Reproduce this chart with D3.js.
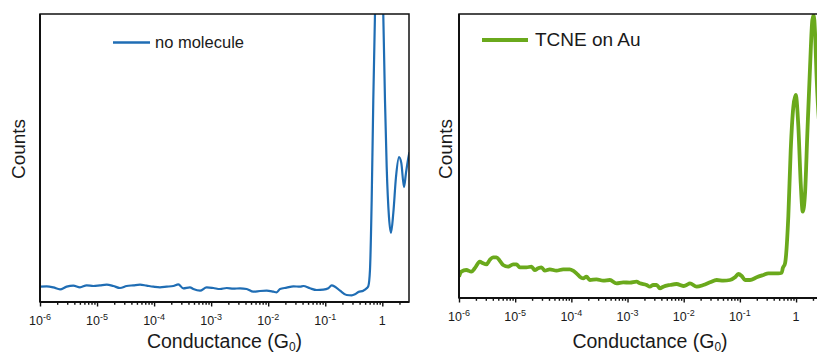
<!DOCTYPE html>
<html>
<head>
<meta charset="utf-8">
<script src="https://cdn.jsdelivr.net/npm/d3@7"></script>
<style>
  html, body { margin: 0; padding: 0; background: #fff; }
  svg { display: block; font-family: "Liberation Sans", Arial, Helvetica, sans-serif; }
</style>
</head>
<body>
<svg id="chart" width="817" height="353"></svg>
<script>
// Conductance histograms: log10(G/G0) positions and counts (arbitrary units)
const noMoleculeLogG = [-6.000,-5.883,-5.766,-5.649,-5.533,-5.416,-5.299,-5.182,-5.065,-4.948,-4.831,-4.715,-4.598,-4.481,-4.364,-4.247,-4.130,-4.013,-3.897,-3.780,-3.663,-3.575,-3.488,-3.371,-3.312,-3.195,-3.079,-2.962,-2.845,-2.728,-2.611,-2.494,-2.377,-2.261,-2.144,-2.027,-1.910,-1.852,-1.793,-1.676,-1.559,-1.443,-1.384,-1.267,-1.150,-1.034,-0.946,-0.888,-0.829,-0.741,-0.625,-0.537,-0.479,-0.420,-0.333,-0.274,-0.245,-0.216,-0.186,-0.158,-0.128,-0.093,-0.058,-0.023,0.017,0.047,0.077,0.117,0.152,0.193,0.240,0.293,0.333,0.380,0.415,0.456,0.476];
const noMoleculeCounts = [5.32,5.44,5.09,4.40,5.32,5.67,5.09,5.79,5.56,5.79,6.02,5.56,4.86,5.56,5.79,6.02,5.67,5.32,5.09,5.32,5.56,6.13,4.75,5.09,4.51,3.93,5.09,4.86,4.51,4.86,4.63,4.75,4.51,3.59,3.82,3.93,3.59,3.36,4.51,4.98,5.44,5.32,5.56,4.75,4.17,4.28,4.75,5.79,5.32,3.93,2.43,2.31,2.66,3.47,3.93,4.75,5.5,11.1,35.4,70,100.3,125,135,125,100,70.1,46.9,29.5,24.0,30.9,43.4,50.3,48.3,39.9,44.8,50,52];

const tcneLogG = [-6.000,-5.958,-5.869,-5.780,-5.720,-5.631,-5.572,-5.512,-5.453,-5.394,-5.334,-5.275,-5.215,-5.126,-5.037,-4.977,-4.918,-4.799,-4.710,-4.651,-4.591,-4.532,-4.473,-4.384,-4.265,-4.146,-4.028,-3.969,-3.909,-3.850,-3.790,-3.731,-3.671,-3.552,-3.433,-3.315,-3.196,-3.077,-2.958,-2.839,-2.780,-2.661,-2.602,-2.542,-2.483,-2.423,-2.364,-2.245,-2.126,-2.007,-1.948,-1.889,-1.770,-1.651,-1.532,-1.413,-1.295,-1.176,-1.087,-1.028,-0.968,-0.909,-0.820,-0.701,-0.582,-0.493,-0.404,-0.315,-0.255,-0.237,-0.196,-0.138,-0.095,-0.048,-0.006,0.041,0.083,0.119,0.160,0.201,0.249,0.290,0.315,0.338,0.368,0.420,0.480];
const tcneCounts = [7.51,9.27,9.86,9.27,10.45,12.79,12.21,11.85,13.38,14.32,14.32,13.15,11.62,11.03,11.85,11.85,10.80,10.80,11.03,9.86,10.45,10.80,9.62,10.09,9.62,10.09,10.09,9.62,8.69,7.51,6.93,7.51,6.34,6.57,6.10,6.34,5.16,5.52,5.40,5.75,5.16,4.58,3.99,4.58,4.58,3.40,3.99,4.58,4.93,4.23,4.58,5.16,3.99,4.58,5.52,6.34,6.10,6.34,7.28,8.45,7.75,6.34,6.34,7.28,8.10,8.69,8.69,8.69,8.92,10.45,12.2,28.6,52.1,67.4,71.5,60.3,40.4,30.4,36.9,58.0,81.4,97.9,99.6,93.3,76.8,60,55];

// Decade tick labels (exponents of 10)
const decadeExponents = [-6, -5, -4, -3, -2, -1, 0];
const minorMultipliers = [2, 3, 4, 5, 6, 7, 8, 9];

const xTitle = "Conductance (G";
const xTitleSub = "0";
const yTitle = "Counts";

const panels = [
  { id: "p1", left: 40, right: 409, top: 14, bottom: 302, maxLog: 0.468,
    logG: noMoleculeLogG, counts: noMoleculeCounts,
    color: "#1f6db4", lineWidth: 2.2,
    legend: { label: "no molecule", x1: 113, x2: 150, y: 42.5, tx: 155, ty: 48, size: 16.5, width: 2.5 },
    yTitleX: 25 },
  { id: "p2", left: 459, right: 841, top: 14, bottom: 298, maxLog: 0.80,
    logG: tcneLogG, counts: tcneCounts,
    color: "#6aa91c", lineWidth: 3.8,
    legend: { label: "TCNE on Au", x1: 482, x2: 528, y: 40, tx: 535, ty: 45.5, size: 19, width: 3.8 },
    yTitleX: 451.5 }
];

const svg = d3.select("#chart");
const textColor = "#1a1a1a";

panels.forEach(p => {
  const x = d3.scaleLog().domain([1e-6, Math.pow(10, p.maxLog)]).range([p.left, p.right]);
  const y = d3.scaleLinear().domain([0, 100]).range([p.bottom, p.top]);

  const g = svg.append("g");

  g.append("clipPath").attr("id", "clip-" + p.id)
    .append("rect")
    .attr("x", p.left).attr("y", p.top)
    .attr("width", p.right - p.left).attr("height", p.bottom - p.top);

  const pts = p.logG.map((lg, i) => ({ g: Math.pow(10, lg), c: p.counts[i] }));
  const line = d3.line()
    .x(d => x(d.g))
    .y(d => y(d.c))
    .curve(d3.curveMonotoneX);

  g.append("path")
    .datum(pts)
    .attr("clip-path", "url(#clip-" + p.id + ")")
    .attr("fill", "none")
    .attr("stroke", p.color)
    .attr("stroke-width", p.lineWidth)
    .attr("stroke-linejoin", "round")
    .attr("d", line);

  // frame
  g.append("rect")
    .attr("x", p.left).attr("y", p.top)
    .attr("width", p.right - p.left).attr("height", p.bottom - p.top)
    .attr("fill", "none").attr("stroke", "#111").attr("stroke-width", 1.5);
  g.append("line")
    .attr("x1", p.left).attr("x2", p.right)
    .attr("y1", p.bottom).attr("y2", p.bottom)
    .attr("stroke", "#111").attr("stroke-width", 2.2);
  g.append("line")
    .attr("x1", p.left).attr("x2", p.left)
    .attr("y1", p.top).attr("y2", p.bottom)
    .attr("stroke", "#111").attr("stroke-width", 2);

  // ticks
  const majors = decadeExponents.map(e => Math.pow(10, e));
  const minors = [];
  decadeExponents.forEach(e => minorMultipliers.forEach(m => {
    const v = m * Math.pow(10, e);
    if (v <= x.domain()[1]) minors.push(v);
  }));

  const majorAxis = d3.axisBottom(x).tickValues(majors).tickSize(4.5).tickFormat("");
  const minorAxis = d3.axisBottom(x).tickValues(minors).tickSize(2.8).tickFormat("");
  [majorAxis, minorAxis].forEach(ax => {
    const a = g.append("g").attr("transform", `translate(0,${p.bottom})`).call(ax);
    a.select(".domain").remove();
    a.selectAll(".tick line").attr("stroke", "#111").attr("stroke-width", 1.4);
  });

  // decade labels
  decadeExponents.forEach(e => {
    const t = g.append("text")
      .attr("x", x(Math.pow(10, e)))
      .attr("y", p.bottom + 23)
      .attr("text-anchor", "middle")
      .attr("fill", textColor)
      .attr("font-size", 12.5);
    if (e === 0) {
      t.text("1");
    } else {
      t.append("tspan").text("10");
      t.append("tspan").attr("font-size", 9).attr("dy", -5.5).text(String(e));
    }
  });

  // axis titles
  const cx = (p.left + p.right) / 2;
  const tt = g.append("text")
    .attr("x", cx).attr("y", 347.5)
    .attr("text-anchor", "middle")
    .attr("fill", textColor)
    .attr("font-size", 19.5);
  tt.append("tspan").text(xTitle);
  tt.append("tspan").attr("font-size", 12).attr("dy", 3).text(xTitleSub);
  tt.append("tspan").attr("dy", -3).text(")");

  g.append("text")
    .attr("transform", `translate(${p.yTitleX},149) rotate(-90)`)
    .attr("text-anchor", "middle")
    .attr("fill", textColor)
    .attr("font-size", 19)
    .text(yTitle);

  // legend
  const L = p.legend;
  g.append("line")
    .attr("x1", L.x1).attr("x2", L.x2).attr("y1", L.y).attr("y2", L.y)
    .attr("stroke", p.color).attr("stroke-width", L.width);
  g.append("text")
    .attr("x", L.tx).attr("y", L.ty)
    .attr("fill", textColor)
    .attr("font-size", L.size)
    .text(L.label);
});
</script>
</body>
</html>
